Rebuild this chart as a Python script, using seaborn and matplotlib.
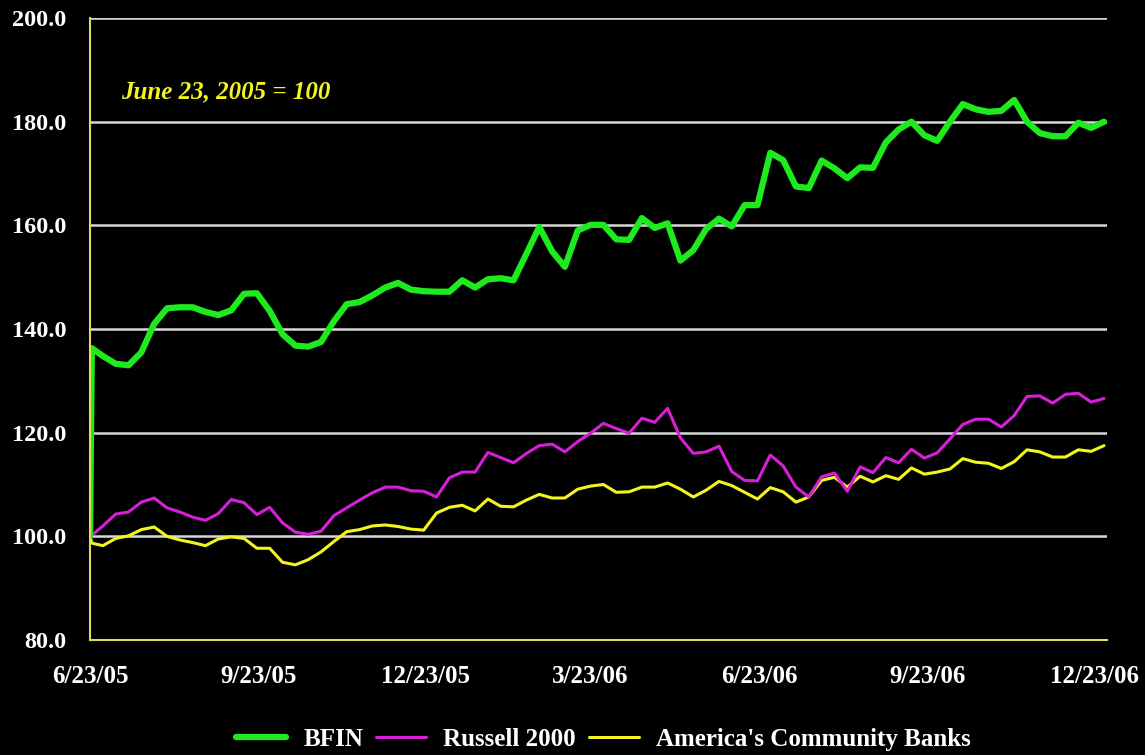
import matplotlib
matplotlib.use("Agg")
import matplotlib.pyplot as plt
import seaborn as sns
import pandas as pd

# ---- data ----
series_names = ["BFIN", "Russell 2000", "America's Community Banks"]
bfin = [100, 136.3, 134.8, 133.3, 133.0, 135.5, 141, 144, 144.2, 144.2, 143.3, 142.7, 143.6,
        146.8, 146.9, 143.5, 139, 136.8, 136.6, 137.5, 141.5, 144.8, 145.2, 146.5, 148, 148.9,
        147.6, 147.3, 147.2, 147.2, 149.4, 148, 149.6, 149.8, 149.4, 154.5, 159.7, 155, 152,
        159, 160.1, 160.1, 157.3, 157.2, 161.4, 159.5, 160.4, 153.2, 155.2, 159.3, 161.3, 159.8,
        163.9, 163.9, 174, 172.6, 167.5, 167.2, 172.5, 171, 169.1, 171.2, 171.1, 176, 178.5, 180,
        177.4, 176.3, 180, 183.4, 182.4, 181.9, 182.1, 184.2, 180, 177.8, 177.2, 177.2, 179.8,
        178.8, 180]
russell = [100, 100.2, 102.0, 104.3, 104.7, 106.6, 107.4, 105.5, 104.7, 103.7, 103.1, 104.4, 107.1,
           106.5, 104.2, 105.6, 102.6, 100.8, 100.4, 101.0, 104.0, 105.5, 107.0, 108.4, 109.5, 109.5,
           108.8, 108.7, 107.6, 111.3, 112.4, 112.4, 116.2, 115.2, 114.2, 116.0, 117.5, 117.8, 116.3,
           118.3, 119.9, 121.8, 120.8, 119.9, 122.8, 122.0, 124.7, 119.0, 116.0, 116.3, 117.4, 112.5,
           110.8, 110.7, 115.7, 113.6, 109.5, 107.6, 111.5, 112.2, 108.7, 113.4, 112.3, 115.2, 114.2,
           116.8, 115.1, 116.1, 118.8, 121.6, 122.6, 122.6, 121.1, 123.3, 127.0, 127.1, 125.7, 127.4,
           127.6, 125.9, 126.6]
community = [100, 98.7, 98.2, 99.6, 100.1, 101.3, 101.8, 100.0, 99.3, 98.8, 98.2, 99.5, 99.9, 99.6,
             97.7, 97.7, 95.0, 94.5, 95.5, 97.0, 99.0, 100.9, 101.3, 102.0, 102.2, 101.9, 101.4,
             101.2, 104.5, 105.6, 106.0, 104.9, 107.2, 105.8, 105.7, 107.0, 108.1, 107.4, 107.4,
             109.1, 109.7, 110.0, 108.5, 108.6, 109.5, 109.5, 110.3, 109.1, 107.6, 108.9, 110.6,
             109.8, 108.5, 107.2, 109.4, 108.6, 106.6, 107.6, 110.8, 111.4, 109.5, 111.6, 110.5,
             111.7, 111.0, 113.2, 112.0, 112.4, 113.0, 115.0, 114.3, 114.1, 113.1, 114.4, 116.7,
             116.3, 115.3, 115.3, 116.7, 116.4, 117.5]
dates = ([pd.Timestamp("2005-06-23"), pd.Timestamp("2005-06-24")]
         + list(pd.date_range("2005-06-30", periods=len(bfin) - 2, freq="7D")))
tick_dates = ["2005-06-23", "2005-09-23", "2005-12-23", "2006-03-23",
              "2006-06-23", "2006-09-23", "2006-12-23"]
tick_labels = ["6/23/05", "9/23/05", "12/23/05", "3/23/06", "6/23/06", "9/23/06", "12/23/06"]
y_ticks = [80, 100, 120, 140, 160, 180, 200]
annotation = "June 23, 2005 = 100"

# ---- styling ----
sns.set_theme(style="dark")
plt.rcParams["font.family"] = ["Liberation Serif", "DejaVu Serif"]
plt.rcParams["font.weight"] = "bold"

BG = "black"
GREEN = "#1EEB1E"
MAGENTA = "#D81ED8"
YELLOW = "#F4F41E"
AXIS = "#DCDC5A"

fig = plt.figure(figsize=(11.45, 7.55), dpi=100, facecolor=BG)
ax = fig.add_axes([0.0786, 0.1523, 0.888, 0.8238])
ax.set_facecolor(BG)

df = pd.DataFrame({"date": dates, "BFIN": bfin, "Russell 2000": russell,
                   "America's Community Banks": community})

sns.lineplot(data=df, x="date", y="America's Community Banks", ax=ax, color=YELLOW,
             linewidth=2.2, label="America's Community Banks", zorder=3)
sns.lineplot(data=df, x="date", y="Russell 2000", ax=ax, color=MAGENTA,
             linewidth=2.2, label="Russell 2000", zorder=4)
sns.lineplot(data=df, x="date", y="BFIN", ax=ax, color=GREEN,
             linewidth=4.5, label="BFIN", zorder=5)

ax.set_ylim(80, 200)
ax.set_xlim(pd.Timestamp("2005-06-23"), pd.Timestamp("2006-12-29 12:00"))
ax.set_yticks(y_ticks)
ax.set_yticklabels([f"{v:.1f}" for v in y_ticks])
ax.set_xticks([pd.Timestamp(d) for d in tick_dates])
ax.set_xticklabels(tick_labels)
ax.set_xlabel("")
ax.set_ylabel("")

ax.grid(False)
for v in y_ticks[1:]:
    ax.axhline(v, color="#D8D8D8", linewidth=1.8, zorder=1)

for side in ["top", "right"]:
    ax.spines[side].set_visible(False)
for side in ["left", "bottom"]:
    ax.spines[side].set_visible(True)
    ax.spines[side].set_color(AXIS)
    ax.spines[side].set_linewidth(1.5)
    ax.spines[side].set_zorder(6)

ax.tick_params(axis="x", colors=AXIS, direction="out", length=6, width=1, pad=12,
               labelcolor="white", labelsize=18)
ax.tick_params(axis="y", colors=AXIS, direction="out", length=8, width=1, pad=9,
               labelcolor="white", labelsize=17.5)
for lbl in ax.get_xticklabels() + ax.get_yticklabels():
    lbl.set_fontweight("bold")

ax.text(0.031, 0.881, annotation, transform=ax.transAxes, color=YELLOW,
        fontsize=18, fontweight="bold", fontstyle="italic", va="center", ha="left")

handles, labels = ax.get_legend_handles_labels()
order = [labels.index(n) for n in series_names]
leg = fig.legend([handles[i] for i in order], [labels[i] for i in order],
                 loc="center", bbox_to_anchor=(0.527, 0.021), ncol=3, frameon=False,
                 handlelength=2.0, columnspacing=0.5, handletextpad=0.7,
                 prop={"family": "Liberation Serif", "weight": "bold", "size": 18})
for t in leg.get_texts():
    t.set_color("white")
if ax.get_legend():
    ax.get_legend().remove()

fig.savefig("out.png", dpi=100, facecolor=BG)
